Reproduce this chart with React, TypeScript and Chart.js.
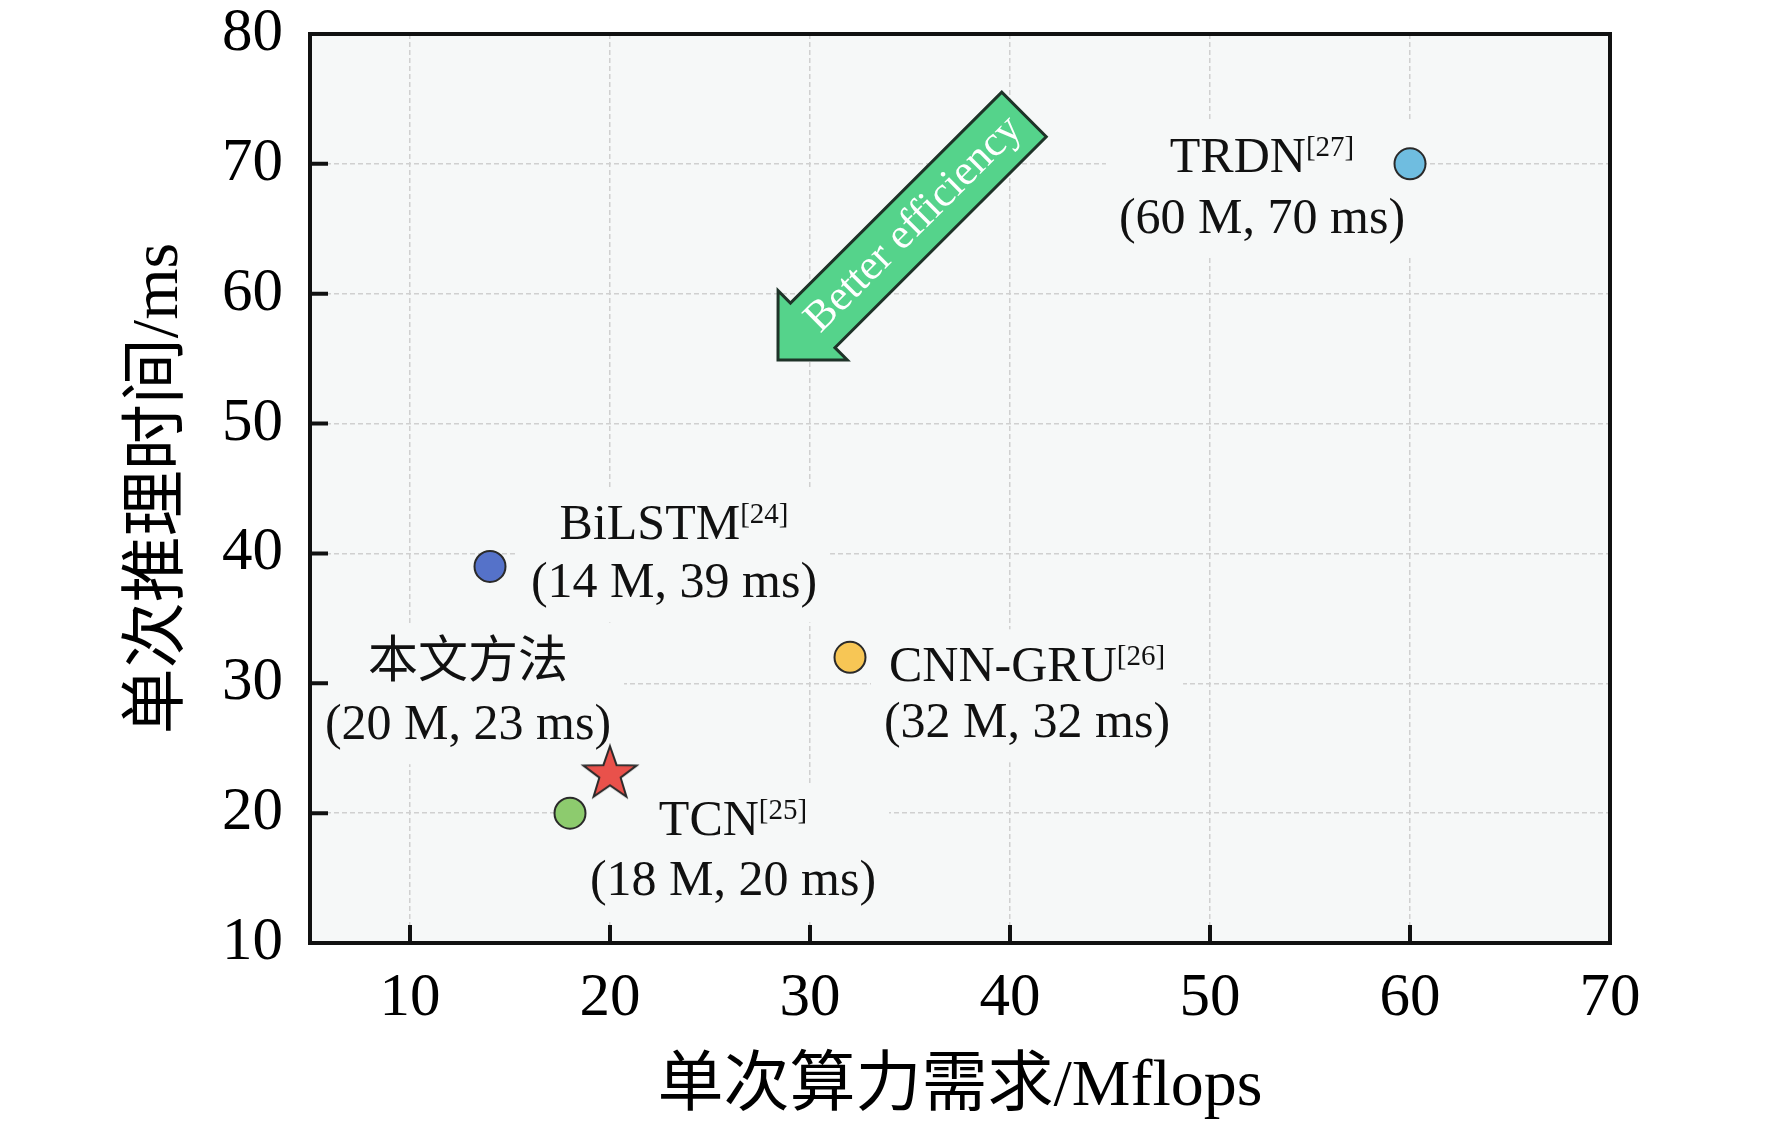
import { useEffect, useRef } from "react"
import { Chart, registerables } from "chart.js"
import type { Plugin } from "chart.js"

Chart.register(...registerables)

const METHODS = ["TRDN", "BiLSTM", "CNN-GRU", "TCN", "本文方法"]
const REFS = ["[27]", "[24]", "[26]", "[25]", ""]
const FLOPS = [60, 14, 32, 18, 20]
const TIMES = [70, 39, 32, 20, 23]
const X_TICKS = [10, 20, 30, 40, 50, 60, 70]
const Y_TICKS = [10, 20, 30, 40, 50, 60, 70, 80]

const X_TITLE = "单次算力需求/Mflops"
const Y_TITLE = "单次推理时间/ms"

// the arrow goes from its tail to its tip, in data units
const ARROW_TAIL = { x: 40.7, y: 73.8 }
const ARROW_TIP = { x: 28.4, y: 54.9 }
const ARROW_TEXT = "Better efficiency"

const COLORS = ["#6fbde0", "#5572c9", "#f7c655", "#8dcb6e", "#e9514b"]
// label placement around each marker (pixels): centre offset and the two baselines
const LABEL_LAYOUT = [
  { dx: -148, b1: 8, b2: 69 },
  { dx: 184, b1: -27, b2: 31 },
  { dx: 177, b1: 24, b2: 80 },
  { dx: 163, b1: 22, b2: 82 },
  { dx: -142, b1: -97, b2: -35 },
]

const SERIF = '"Liberation Serif", "Times New Roman", "Noto Sans CJK SC", serif'
const PLOT_BG = "#f6f8f8"

function makeStar(outer: number, color: string) {
  const c = document.createElement("canvas")
  const size = Math.ceil(outer * 2 + 6)
  c.width = size
  c.height = size
  const ctx = c.getContext("2d")!
  const inner = outer * 0.4
  ctx.beginPath()
  for (let k = 0; k < 10; k++) {
    const r = k % 2 === 0 ? outer : inner
    const a = -Math.PI / 2 + (k * Math.PI) / 5
    const px = size / 2 + r * Math.cos(a)
    const py = size / 2 + r * Math.sin(a)
    if (k === 0) ctx.moveTo(px, py)
    else ctx.lineTo(px, py)
  }
  ctx.closePath()
  ctx.fillStyle = color
  ctx.fill()
  ctx.lineWidth = 2
  ctx.strokeStyle = "#2a2a2a"
  ctx.stroke()
  return c
}

const decor: Plugin<"scatter"> = {
  id: "decor",
  beforeDraw(chart) {
    const { ctx, chartArea: a } = chart
    ctx.save()
    ctx.fillStyle = PLOT_BG
    ctx.fillRect(a.left, a.top, a.right - a.left, a.bottom - a.top)
    ctx.restore()
  },
  beforeDatasetsDraw(chart) {
    const { ctx, scales } = chart
    const x = scales.x
    const y = scales.y
    ctx.save()

    // labels with a plain box behind them so the grid is hidden
    METHODS.forEach((name, i) => {
      const px = x.getPixelForValue(FLOPS[i])
      const py = y.getPixelForValue(TIMES[i])
      const L = LABEL_LAYOUT[i]
      const cx = px + L.dx
      const line2 = `(${FLOPS[i]} M, ${TIMES[i]} ms)`
      ctx.font = `50px ${SERIF}`
      const wName = ctx.measureText(name).width
      const w2 = ctx.measureText(line2).width
      ctx.font = `29px ${SERIF}`
      const wRef = REFS[i] ? ctx.measureText(REFS[i]).width : 0
      const w1 = wName + wRef
      const half = Math.max(w1, w2) / 2
      ctx.fillStyle = PLOT_BG
      ctx.fillRect(cx - half - 13, py + L.b1 - 52, 2 * half + 26, L.b2 - L.b1 + 77)

      ctx.fillStyle = "#111"
      ctx.textAlign = "left"
      ctx.textBaseline = "alphabetic"
      ctx.font = `50px ${SERIF}`
      ctx.fillText(name, cx - w1 / 2, py + L.b1)
      ctx.fillText(line2, cx - w2 / 2, py + L.b2)
      if (REFS[i]) {
        ctx.font = `29px ${SERIF}`
        ctx.fillText(REFS[i], cx - w1 / 2 + wName, py + L.b1 - 16)
      }
    })

    // block arrow
    const tx = x.getPixelForValue(ARROW_TIP.x)
    const ty = y.getPixelForValue(ARROW_TIP.y)
    const ex = x.getPixelForValue(ARROW_TAIL.x)
    const ey = y.getPixelForValue(ARROW_TAIL.y)
    const len = Math.hypot(ex - tx, ey - ty)
    const dx = (ex - tx) / len
    const dy = (ey - ty) / len
    const nx = -dy
    const ny = dx
    const headLen = 49
    const headW = 49
    const shaftW = 31.5
    const bx = tx + dx * headLen
    const by = ty + dy * headLen
    ctx.beginPath()
    ctx.moveTo(tx, ty)
    ctx.lineTo(bx + nx * headW, by + ny * headW)
    ctx.lineTo(bx + nx * shaftW, by + ny * shaftW)
    ctx.lineTo(ex + nx * shaftW, ey + ny * shaftW)
    ctx.lineTo(ex - nx * shaftW, ey - ny * shaftW)
    ctx.lineTo(bx - nx * shaftW, by - ny * shaftW)
    ctx.lineTo(bx - nx * headW, by - ny * headW)
    ctx.closePath()
    ctx.fillStyle = "#55d38b"
    ctx.fill()
    ctx.lineWidth = 3
    ctx.lineJoin = "miter"
    ctx.strokeStyle = "#1e3328"
    ctx.stroke()

    ctx.translate(tx + dx * 192, ty + dy * 192)
    ctx.rotate(Math.atan2(dy, dx))
    ctx.fillStyle = "#ffffff"
    ctx.font = `43px ${SERIF}`
    ctx.textAlign = "center"
    ctx.textBaseline = "middle"
    ctx.fillText(ARROW_TEXT, 0, 0)
    ctx.restore()
  },
  afterDraw(chart) {
    const { ctx, chartArea: a, scales } = chart
    const x = scales.x
    const y = scales.y
    ctx.save()
    ctx.strokeStyle = "#111"
    ctx.lineWidth = 4
    ctx.strokeRect(a.left, a.top, a.right - a.left, a.bottom - a.top)
    // inward tick marks
    ctx.beginPath()
    X_TICKS.forEach((v) => {
      if (v > x.min && v < x.max) {
        const p = x.getPixelForValue(v)
        ctx.moveTo(p, a.bottom)
        ctx.lineTo(p, a.bottom - 18)
      }
    })
    Y_TICKS.forEach((v) => {
      if (v > y.min && v < y.max) {
        const p = y.getPixelForValue(v)
        ctx.moveTo(a.left, p)
        ctx.lineTo(a.left + 18, p)
      }
    })
    ctx.stroke()
    ctx.restore()
  },
}

export default function App() {
  const canvasRef = useRef<HTMLCanvasElement>(null)

  useEffect(() => {
    if (!canvasRef.current) return
    const star = makeStar(28, COLORS[4])

    const chart = new Chart(canvasRef.current, {
      type: "scatter",
      data: {
        datasets: [
          {
            data: FLOPS.map((v, i) => ({ x: v, y: TIMES[i] })),
            backgroundColor: COLORS,
            borderColor: "#2a2a2a",
            borderWidth: 2,
            pointRadius: 15.5,
            pointHoverRadius: 15.5,
            pointStyle: METHODS.map((_, i) => (i === 4 ? star : "circle")),
          },
        ],
      },
      options: {
        animation: false,
        responsive: true,
        maintainAspectRatio: false,
        layout: { autoPadding: false, padding: { top: 34, right: 162, left: 0, bottom: 0 } },
        plugins: {
          legend: { display: false },
          tooltip: { enabled: false },
        },
        scales: {
          x: {
            type: "linear",
            min: 5,
            max: 70,
            afterBuildTicks: (s) => {
              s.ticks = X_TICKS.map((v) => ({ value: v }))
            },
            afterFit: (s) => {
              s.height = 182
            },
            grid: { color: "#d0d0d0", lineWidth: 1.5, drawTicks: false },
            border: { display: false, dash: [5, 3] },
            ticks: {
              color: "#000",
              padding: 25,
              autoSkip: false,
              maxRotation: 0,
              font: { family: SERIF, size: 61, lineHeight: 1 },
            },
            title: {
              display: true,
              text: X_TITLE,
              color: "#000",
              font: { family: SERIF, size: 66, lineHeight: 1 },
              padding: { top: 0, bottom: 4 },
            },
          },
          y: {
            type: "linear",
            min: 10,
            max: 80,
            afterBuildTicks: (s) => {
              s.ticks = Y_TICKS.map((v) => ({ value: v }))
            },
            afterFit: (s) => {
              s.width = 310
              // keep the end labels from pushing the plot area in
              s.paddingTop = 0
              s.paddingBottom = 0
            },
            grid: { color: "#d0d0d0", lineWidth: 1.5, drawTicks: false },
            border: { display: false, dash: [5, 3] },
            ticks: {
              color: "#000",
              padding: 27,
              autoSkip: false,
              font: { family: SERIF, size: 61, lineHeight: 1 },
            },
            title: {
              display: true,
              text: Y_TITLE,
              color: "#000",
              font: { family: SERIF, size: 66, lineHeight: 1 },
              padding: { top: 127, bottom: 0 },
            },
          },
        },
      },
      plugins: [decor],
    })

    return () => {
      chart.destroy()
    }
  }, [])

  return (
    <div style={{ position: "absolute", left: 0, top: 0, width: 1772, height: 1125, background: "#fff" }}>
      <canvas ref={canvasRef}></canvas>
    </div>
  )
}
